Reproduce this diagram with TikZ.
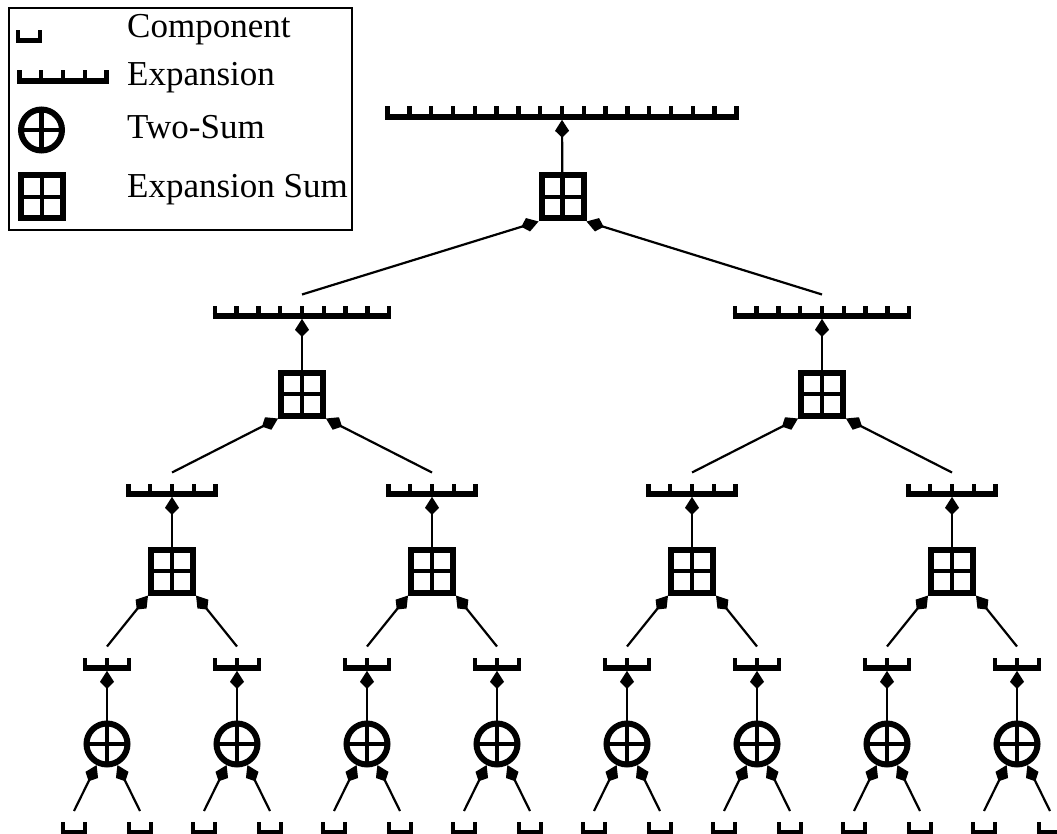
\documentclass[tikz,border=0pt]{standalone}
\usepackage{fontspec}
\setmainfont{Liberation Serif}
\usetikzlibrary{arrows.meta}

\tikzset{
	pics/expansion/.style={code={
		\draw[line width=5.5pt] ({-#1*\U/2-2.2},0) -- ({#1*\U/2+2.2},0);
		\foreach \k in {0,...,#1}
			\draw[line width=4.5pt] ({(\k-#1/2)*\U},0) -- ++(0,-10.5);
		\coordinate (-bot) at (0,2.8);
		\coordinate (-end) at (0,-21.5);
	}},
	cross/.style={path picture={
		\draw[line width=4.5pt] (path picture bounding box.north) -- (path picture bounding box.south)
			(path picture bounding box.west) -- (path picture bounding box.east);
	}},
	esum/.style={draw, rectangle, line width=6pt, minimum width=42pt, minimum height=43pt, inner sep=0pt, cross},
	tsum/.style={draw, circle, line width=6pt, minimum size=41pt, inner sep=0pt, cross},
	feed/.style={line width=2.2pt, -{Kite[length=18pt, width=14pt, inset=7pt]}},
	key/.style={anchor=base west, inner sep=0pt, font=\fontsize{35}{40}\selectfont}
}

\begin{document}
\begin{tikzpicture}[x=1pt, y=-1pt]
	\def\U{21.8};
	\useasboundingbox (0,0) rectangle (1057,834);

	% legend
	\draw[line width=1.6pt] (9,8) rectangle (352,230);
	\pic (kc) at (29,40.5) {expansion=1};
	\pic (ke) at (63,81) {expansion=4};
	\node[tsum] (kt) at (41.5,130) {};
	\node[esum] (ks) at (42,197) {};
	\node[key] (kct) at (127,38) {Component};
	\node[key] (ket) at (127,86) {Expansion};
	\node[key] (ktt) at (127,139) {Two-Sum};
	\node[key] (kst) at (127,198) {Expansion Sum};

	% top
	\pic (e0) at (562,117) {expansion=16};
	\node[esum] (s0) at (562.5,197) {};

	% second level
	\foreach \i/\x in {1/302, 2/822} {
		\pic (e\i) at (\x,316) {expansion=8};
		\node[esum] (s\i) at (\x,394) {};
	}

	% third level
	\foreach \j/\x in {1/172, 2/432, 3/692, 4/952} {
		\pic (f\j) at (\x,494) {expansion=4};
		\node[esum] (r\j) at (\x,571) {};
	}

	% two-sums and components
	\foreach \i in {1,...,8} {
		\pgfmathsetmacro\xx{107+130*(\i-1)}
		\pic (d\i) at (\xx,668) {expansion=2};
		\node[tsum] (p\i) at (\xx,744) {};
		\pic (la\i) at (\xx-33,832.5) {expansion=1};
		\pic (lb\i) at (\xx+33,832.5) {expansion=1};
	}

	\begin{scope}[feed]
		\draw (s0) -- (e0-bot);
		\draw (e1-end) -- (s0.south west);
		\draw (e2-end) -- (s0.south east);
		\foreach \i in {1,2}
			\draw (s\i) -- (e\i-bot);
		\draw (f1-end) -- (s1.south west);
		\draw (f2-end) -- (s1.south east);
		\draw (f3-end) -- (s2.south west);
		\draw (f4-end) -- (s2.south east);
		\foreach \j [evaluate=\j as \da using int(2*\j-1), evaluate=\j as \db using int(2*\j)] in {1,...,4} {
			\draw (r\j) -- (f\j-bot);
			\draw (d\da-end) -- (r\j.south west);
			\draw (d\db-end) -- (r\j.south east);
		}
		\foreach \i in {1,...,8} {
			\draw (p\i) -- (d\i-bot);
			\draw (la\i-end) -- (p\i);
			\draw (lb\i-end) -- (p\i);
		}
	\end{scope}
\end{tikzpicture}
\end{document}
